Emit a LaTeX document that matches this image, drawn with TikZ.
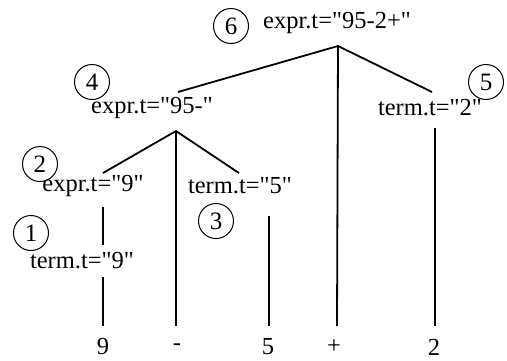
\documentclass[tikz,border=0pt]{standalone}
\usepackage{fontspec}
\setmainfont{Liberation Serif}[Ligatures=TeXOff]
\begin{document}
\begin{tikzpicture}[x=1pt,y=-1pt,
  lbl/.style={inner sep=0pt,font=\fontsize{24.5}{28}\selectfont},
  num/.style={circle,draw,line width=1pt,minimum size=35pt,inner sep=0pt,font=\fontsize{25}{28}\selectfont},
  edge/.style={line width=1.8pt}]
\useasboundingbox (0,0) rectangle (507,360);
% labels
\node[lbl] (e6) at (337,23) {expr.t="95-2+"};
\node[lbl] (e4) at (152,108) {expr.t="95-"};
\node[lbl] (t5) at (430,108) {term.t="2"};
\node[lbl] (e2) at (93,186) {expr.t="9"};
\node[lbl] (t3) at (240,186) {term.t="5"};
\node[lbl] (t1) at (82,261) {term.t="9"};
% leaves
\node[lbl] (l9) at (103,347) {9};
\node[lbl] (lm) at (177,347) {-};
\node[lbl] (l5) at (268,347) {5};
\node[lbl] (lp) at (334,347) {+};
\node[lbl] (l2) at (434,347) {2};
% circled numbers
\node[num] (c6) at (231,26) {6};
\node[num] (c5) at (486,82) {5};
\node[num] (c4) at (92,82) {4};
\node[num] (c2) at (40,164) {2};
\node[num] (c1) at (31,233) {1};
\node[num] (c3) at (216,221) {3};
% connector endpoints
\coordinate (a6) at (338,46);
\coordinate (a6l) at (178,92);
\coordinate (a6r) at (432,92);
\coordinate (a6b) at (337,326);
\coordinate (a5) at (435,128);
\coordinate (a5b) at (435,326);
\coordinate (a4) at (176,131);
\coordinate (a4l) at (103,173);
\coordinate (a4r) at (239,173);
\coordinate (a4b) at (176,326);
\coordinate (a2) at (103,207);
\coordinate (a2b) at (103,245);
\coordinate (a1) at (103,277);
\coordinate (a1b) at (103,326);
\coordinate (a3) at (269,216);
\coordinate (a3b) at (269,326);
% connectors
\draw[edge] (a6l) -- (a6) -- (a6r);
\draw[edge] (a6) -- (a6b);
\draw[edge] (a5) -- (a5b);
\draw[edge] (a4l) -- (a4) -- (a4r);
\draw[edge] (a4) -- (a4b);
\draw[edge] (a2) -- (a2b);
\draw[edge] (a1) -- (a1b);
\draw[edge] (a3) -- (a3b);
\end{tikzpicture}
\end{document}
